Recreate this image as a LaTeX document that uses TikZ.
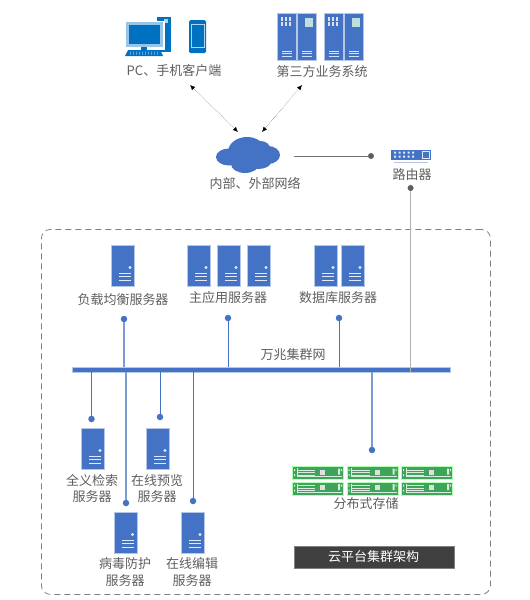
\documentclass[tikz,border=0pt]{standalone}
\usepackage{fontspec}
\setmainfont{Noto Sans CJK SC}
\usetikzlibrary{arrows.meta}
\definecolor{sblue}{HTML}{4472C4}
\definecolor{sedge}{HTML}{B4C7E7}
\definecolor{pcblue}{HTML}{0070C0}
\definecolor{lab}{HTML}{5F5F5F}
\definecolor{sgreen}{HTML}{3FA45B}
\definecolor{dark}{HTML}{404040}
\tikzset{
  lbl/.style={text=lab,font=\fontsize{13}{16.5}\selectfont,align=center,inner sep=0pt},
  srvbody/.style={fill=sblue,draw=sedge,line width=.5pt,minimum width=23pt,minimum height=41pt,inner sep=0pt,anchor=north west},
  rackbody/.style={fill=sblue,draw=sedge,line width=.5pt,minimum width=19pt,minimum height=47pt,inner sep=0pt,anchor=north west},
  stbody/.style={fill=sgreen,draw=green!30!white,line width=.4pt,minimum width=51pt,minimum height=13pt,inner sep=0pt,anchor=north west},
  bdot/.style={circle,fill=sblue,minimum size=6.5pt,inner sep=0pt},
  gdot/.style={circle,fill=lab,minimum size=6pt,inner sep=0pt},
  wire/.style={sblue,line width=.9pt},
  wirelt/.style={sblue!70!white,line width=1.2pt},
  link/.style={black!55,line width=.5pt,densely dotted,{Latex[length=5pt,width=4.5pt,black]}-{Latex[length=5pt,width=4.5pt,black]}}
}
% server tower
\newcommand{\srv}[3]{%
  \node[srvbody] (#1) at (#2,#3) {};
  \begin{scope}[shift={(#2,#3)}]
    \fill[white!85!sblue] (19,22.5) circle (1.7);
    \draw[white!85!sblue,line width=.8pt] (8,28)--(20,28) (8,31.5)--(20,31.5) (8,35)--(20,35);
  \end{scope}}
% rack server
\newcommand{\rack}[4]{%
  \node[rackbody] (#1) at (#2,#3) {};
  \begin{scope}[shift={(#2,#3)}]
    \draw[white!80!sblue,line width=.8pt] (5,38)--(15,38) (5,40.5)--(15,40.5) (5,43)--(15,43);
    #4
  \end{scope}}
\newcommand{\rackA}{\foreach \x in {4,7.5,11.5}{\foreach \y in {4,9}{\fill[white!80!sblue] (\x,\y) rectangle +(2,3.5);}}}
\newcommand{\rackB}{\fill[white!75!teal] (7.5,4.5) rectangle (15.5,13.5);}
% storage unit
\newcommand{\stor}[3]{%
  \node[stbody] (#1) at (#2,#3) {};
  \begin{scope}[shift={(#2,#3)}]
    \draw[white!80!sgreen,line width=.7pt] (5,2)--(5,11) (5,4)--(23,4) (5,6.5)--(23,6.5) (5,9)--(23,9) (5,10.5)--(50,10.5);
    \fill[white!80!lab] (28,3.5) rectangle (33,8.5);
    \fill[white!80!sgreen] (2,3) rectangle +(1,2) (2,8) rectangle +(1,2) (46,2.5) rectangle +(2,6) (49,3) rectangle +(1,2);
  \end{scope}}
\begin{document}
\begin{tikzpicture}[x=1pt,y=-1pt]
\useasboundingbox (0,0) rectangle (530,600);
\fill[white] (0,0) rectangle (530,600);
% frame
\node[draw=black!50,dash pattern=on 6pt off 4pt,line width=.8pt,rounded corners=9pt,minimum width=449pt,minimum height=365pt,inner sep=0pt,anchor=north west] (frame) at (41,229) {};

% client icons
\begin{scope}
  \fill[pcblue] (157,17) rectangle (170.5,52);
  \fill[white!70!pcblue] (164,19) rectangle (168,23);
  \fill[white] (153,20.5) rectangle (165,50);
  \fill[white!60!pcblue] (126,22) rectangle (163,47);
  \fill[pcblue] (128.5,24.5) rectangle (160,44);
  \fill[pcblue] (141,47) rectangle (147,50);
  \fill[pcblue] (128,50) -- (160,50) -- (163,56) -- (125,56) -- cycle;
  \foreach \x in {131,134,...,158}{\draw[white!70!pcblue,line width=.5pt] (\x,51.5)--(\x-.5,54.5);}
  \fill[pcblue,rounded corners=1.5pt] (189,20) rectangle (206,53);
  \fill[white!70!pcblue] (190.5,24) rectangle (204.5,48);
  \fill[pcblue] (191.5,25) rectangle (203.5,47);
\end{scope}
\node[lbl] (pc) at (174,71) {PC、手机客户端};

% third party racks
\rack{ra}{277}{13}{\rackA}
\rack{rb}{297}{13}{\rackB}
\rack{rc}{324}{13}{\rackA}
\rack{rd}{344}{13}{\rackB}
\node[lbl] (third) at (322,71.5) {第三方业务系统};

% cloud
\fill[sblue] (247,152) ellipse (19 and 15);
\fill[sblue] (229,157) ellipse (13 and 8.5);
\fill[sblue] (268,155) ellipse (12 and 9);
\fill[sblue] (260,148) ellipse (10 and 7);
\fill[sblue] (245,164) ellipse (14 and 9);
\fill[sblue] (258,162) ellipse (13 and 7);
\node[inner sep=0pt,minimum width=64pt,minimum height=36pt] (cloud) at (248,155) {};
\node[lbl] (net) at (255,183) {内部、外部网络};

\coordinate (pcA) at (190,85);
\coordinate (cA) at (238,132);
\coordinate (trA) at (302,85);
\coordinate (cB) at (262,132);
\draw[link] (pcA) -- (cA);
\draw[link] (trA) -- (cB);

% router
\node[fill=sblue,minimum width=40pt,minimum height=10pt,inner sep=0pt,anchor=north west] (router) at (391,150) {};
\foreach \x in {394,398.5,403,407.5,412}{\fill[white!85!sblue] (\x,151.5) rectangle +(2,2) (\x,155.5) rectangle +(2,2);}
\draw[white!85!sblue,line width=.6pt] (422,151.5) rectangle (429,158.5);
\draw[sedge,line width=1pt] (394,162) -- (428,162);
\node[lbl] (rlabel) at (412,175) {路由器};
\node[gdot] (netdot) at (371,156) {};
\coordinate (netout) at (294,156);
\draw[black!55,line width=.7pt] (netout) -- (netdot);

% bus
\node[fill=sblue,draw=sedge,line width=.4pt,minimum width=378pt,minimum height=5pt,inner sep=0pt,anchor=north west] (bus) at (72,367) {};
\node[lbl] (busl) at (293,355) {万兆集群网};

% router link
\node[gdot] (rdot) at (410.6,188) {};
\draw[black!30,line width=.8pt] (rdot) -- (rdot |- bus.south);

% upper servers
\srv{lb}{111}{245}
\node[lbl] (lbl1) at (123,299.5) {负载均衡服务器};
\srv{ap1}{187}{245}
\srv{ap2}{217}{245}
\srv{ap3}{247}{245}
\node[lbl] (lbl2) at (228,298) {主应用服务器};
\srv{db1}{314}{245}
\srv{db2}{341}{245}
\node[lbl] (lbl3) at (338,298) {数据库服务器};

\node[bdot] (d1) at (124,319) {};
\node[bdot] (d2) at (228,318) {};
\node[bdot] (d3) at (339,318) {};
\draw[wirelt] (d1) -- (d1 |- bus.north);
\draw[wire] (d2) -- (d2 |- bus.north);
\draw[wire] (d3) -- (d3 |- bus.north);

% lower servers
\srv{s1}{81}{428}
\srv{s2}{146}{428}
\srv{s3}{113.5}{512}
\srv{s4}{181}{512}
\node[lbl] (l1) at (92,488.5) {全义检索\\服务器};
\node[lbl] (l2) at (157,488.5) {在线预览\\服务器};
\node[lbl] (l3) at (125,572) {病毒防护\\服务器};
\node[lbl] (l4) at (192,572) {在线编辑\\服务器};

\node[bdot] (d4) at (91.5,419) {};
\node[bdot] (d5) at (160,417) {};
\node[bdot] (d6) at (126,503) {};
\node[bdot] (d7) at (193,501) {};
\node[bdot] (d8) at (372,450) {};
\draw[wire] (d4) -- (d4 |- bus.south);
\draw[wire] (d5) -- (d5 |- bus.south);
\draw[wirelt] (d6) -- (d6 |- bus.south);
\draw[wire] (d7) -- (d7 |- bus.south);
\draw[wirelt] (d8) -- (d8 |- bus.south);

% storage
\stor{st1}{292}{466}
\stor{st2}{346.5}{466}
\stor{st3}{401}{466}
\stor{st4}{292}{481.5}
\stor{st5}{346.5}{481.5}
\stor{st6}{401}{481.5}
\node[lbl] (stl) at (366,504) {分布式存储};

% title bar
\node[fill=dark,draw=black!50,line width=.4pt,text=white,font=\fontsize{13}{16}\selectfont,minimum width=160pt,minimum height=22pt,inner sep=0pt,anchor=north west] (title) at (293.5,545.5) {云平台集群架构};
\end{tikzpicture}
\end{document}
